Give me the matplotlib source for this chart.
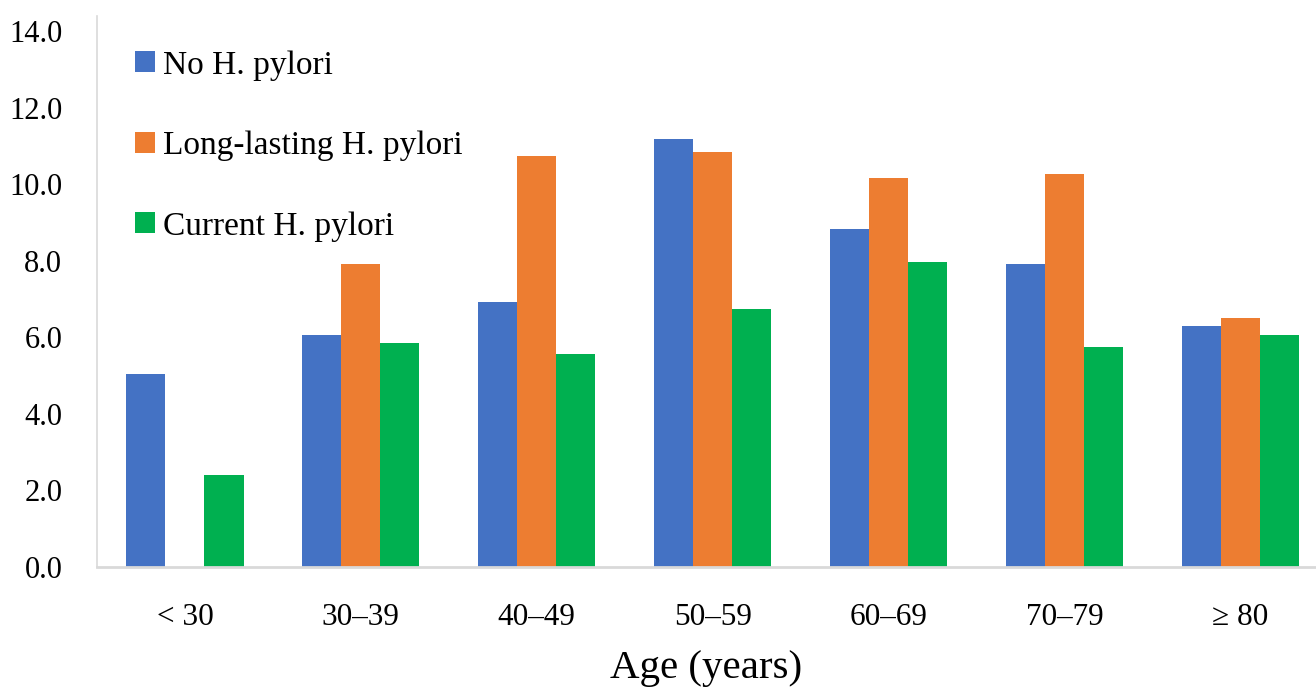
import matplotlib
matplotlib.use("Agg")
import matplotlib.pyplot as plt
from matplotlib.patches import Patch
import numpy as np

plt.rcParams['font.family'] = ['Liberation Serif', 'DejaVu Serif']

age_groups = ["< 30", "30\u201339", "40\u201349", "50\u201359", "60\u201369", "70\u201379", "\u2265 80"]
no_hp = [5.04, 6.06, 6.92, 11.18, 8.83, 7.91, 6.30]
long_hp = [0.0, 7.91, 10.73, 10.84, 10.16, 10.26, 6.52]
current_hp = [2.40, 5.85, 5.56, 6.75, 7.96, 5.74, 6.07]

series_names = ["No H. pylori", "Long-lasting H. pylori", "Current H. pylori"]
colors = ["#4472C4", "#ED7D31", "#00B050"]
y_ticks = [0, 2, 4, 6, 8, 10, 12, 14]

fig = plt.figure(figsize=(13.16, 6.89), dpi=100)
ax = fig.add_axes([97 / 1316, 122 / 689, 1 - 97 / 1316, 551 / 689])

x = np.arange(len(age_groups))
w = 0.222
for i, (vals, c) in enumerate(zip([no_hp, long_hp, current_hp], colors)):
    ax.bar(x + (i - 1) * w, vals, width=w, color=c, zorder=2)

ax.set_xlim(-0.5, 6.43)
ax.set_ylim(0, 14.4)
ax.set_yticks(y_ticks)
ax.set_yticklabels([f"{v:.1f}" for v in y_ticks])
ax.set_xticks(x)
ax.set_xticklabels(age_groups)
ax.tick_params(axis='both', length=0, colors='black')
ax.tick_params(axis='y', labelsize=22, pad=25)
ax.tick_params(axis='x', labelsize=22.5, pad=26)

for s in ['top', 'right']:
    ax.spines[s].set_visible(False)
ax.spines['left'].set_color('#D9D9D9')
ax.spines['left'].set_linewidth(1.2)
ax.spines['bottom'].set_color('#D9D9D9')
ax.spines['bottom'].set_linewidth(2)

# the reference crops the axis title at the bottom edge; keep it just inside
ax.set_xlabel("Age (years)", fontsize=29.5, labelpad=13)

handles = [Patch(facecolor=c, edgecolor='none') for c in colors]
ax.legend(handles, series_names, loc='upper left', bbox_to_anchor=(0.031, 0.938),
          frameon=False, fontsize=24, handlelength=0.6, handleheight=0.6,
          handletextpad=0.25, labelspacing=1.5, borderpad=0, borderaxespad=0)

fig.savefig("out.png", dpi=100)
